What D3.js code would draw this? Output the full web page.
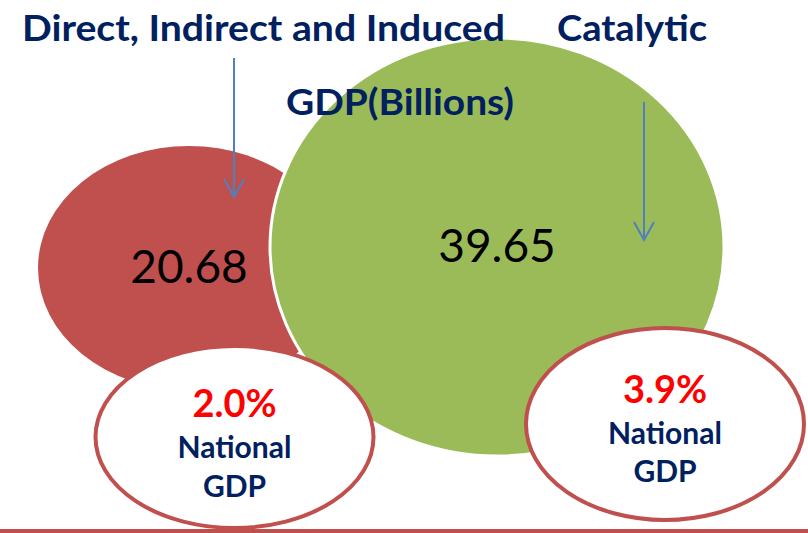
<!DOCTYPE html>
<html>
<head>
<meta charset="utf-8">
<script src="https://cdn.jsdelivr.net/npm/d3@7"></script>
<style>
  html, body { margin: 0; padding: 0; background: #fff; }
  svg { display: block; }
</style>
</head>
<body>
<svg id="chart"></svg>
<script>
// data
const categories = ["Direct, Indirect and Induced", "Catalytic"];
const gdpBillions = [20.68, 39.65];
const nationalShare = [2.0, 3.9];
const shareLabel = ["National", "GDP"];
const title = "GDP(Billions)";

const width = 808;
const height = 533;
const navy = "#002060";

const svg = d3.select("#chart")
    .attr("width", width)
    .attr("height", height);

// bubble layout (one per category)
const bubbleX = d3.scaleOrdinal().domain(categories).range([189, 497]);
const bubbleY = d3.scaleOrdinal().domain(categories).range([268, 247]);
const bubbleRx = d3.scaleLinear().domain([20.68, 39.65]).range([151, 227]);
const bubbleRy = d3.scaleLinear().domain([20.68, 39.65]).range([122, 209]);
const bubbleFill = d3.scaleOrdinal().domain(categories).range(["#C0504D", "#9BBB59"]);

const rows = categories.map((c, i) => ({cat: c, value: gdpBillions[i], share: nationalShare[i]}));

const bubbles = svg.append("g")
  .selectAll("g")
  .data(rows)
  .join("g");

bubbles.append("ellipse")
    .attr("cx", d => bubbleX(d.cat))
    .attr("cy", d => bubbleY(d.cat))
    .attr("rx", d => bubbleRx(d.value))
    .attr("ry", d => bubbleRy(d.value))
    .attr("fill", d => bubbleFill(d.cat))
    .attr("stroke", (d, i) => i === 0 ? "none" : "#fff")
    .attr("stroke-width", 3);

bubbles.append("text")
    .attr("x", d => bubbleX(d.cat))
    .attr("y", (d, i) => [283, 262][i])
    .attr("text-anchor", "middle")
    .style("font-family", "Lato, 'Open Sans', sans-serif")
    .style("font-size", "46px")
    .style("fill", "#000")
    .text(d => d3.format(".2f")(d.value));

// arrows from the headings down into the bubbles
const arrows = [
  {x: 234, y1: 58, y2: 197},
  {x: 644, y1: 102, y2: 240}
];
const arrowG = svg.append("g")
    .attr("stroke", "#4F81BD")
    .attr("stroke-width", 2)
    .attr("fill", "none");
arrowG.selectAll("line")
  .data(arrows)
  .join("line")
    .attr("x1", d => d.x).attr("x2", d => d.x)
    .attr("y1", d => d.y1).attr("y2", d => d.y2);
arrowG.selectAll("path")
  .data(arrows)
  .join("path")
    .attr("d", d => `M${d.x - 10},${d.y2 - 18}L${d.x},${d.y2}L${d.x + 10},${d.y2 - 18}`);

// headings
const headFont = "Lato, 'Open Sans', sans-serif";
svg.append("g")
  .selectAll("text")
  .data(categories)
  .join("text")
    .attr("x", (d, i) => [22, 557][i])
    .attr("y", 41)
    .attr("textLength", (d, i) => [483, 150][i])
    .attr("lengthAdjust", "spacingAndGlyphs")
    .style("font-family", headFont)
    .style("font-weight", 700)
    .style("font-size", "37px")
    .style("fill", navy)
    .text(d => d);

svg.append("text")
    .attr("x", 286)
    .attr("y", 115)
    .attr("textLength", 228)
    .attr("lengthAdjust", "spacingAndGlyphs")
    .style("font-family", headFont)
    .style("font-weight", 700)
    .style("font-size", "36px")
    .style("fill", navy)
    .text(title);

// national GDP share badges
const badgeX = d3.scaleOrdinal().domain(categories).range([234.5, 665]);
const badgeY = d3.scaleOrdinal().domain(categories).range([437, 424]);
const badges = svg.append("g")
  .selectAll("g")
  .data(rows)
  .join("g");

badges.append("ellipse")
    .attr("cx", d => badgeX(d.cat))
    .attr("cy", d => badgeY(d.cat))
    .attr("rx", 139)
    .attr("ry", (d, i) => [91, 96][i])
    .attr("fill", "#fff")
    .attr("stroke", "#C0504D")
    .attr("stroke-width", 4);

badges.append("text")
    .attr("x", d => badgeX(d.cat))
    .attr("y", (d, i) => [417, 403][i])
    .attr("text-anchor", "middle")
    .style("font-family", headFont)
    .style("font-weight", 700)
    .style("font-size", "38px")
    .style("fill", "#FF0000")
    .text(d => d3.format(".1f")(d.share) + "%");

shareLabel.forEach((lab, k) => {
  badges.append("text")
      .attr("x", d => badgeX(d.cat))
      .attr("y", (d, i) => [[458, 444], [497, 482]][k][i])
      .attr("text-anchor", "middle")
      .style("font-family", headFont)
      .style("font-weight", 700)
      .style("font-size", "30px")
      .style("fill", navy)
      .text(lab);
});

// bottom rule
svg.append("line")
    .attr("x1", 0).attr("x2", width)
    .attr("y1", 531).attr("y2", 531)
    .attr("stroke", "#C0504D")
    .attr("stroke-width", 4);
</script>
</body>
</html>
